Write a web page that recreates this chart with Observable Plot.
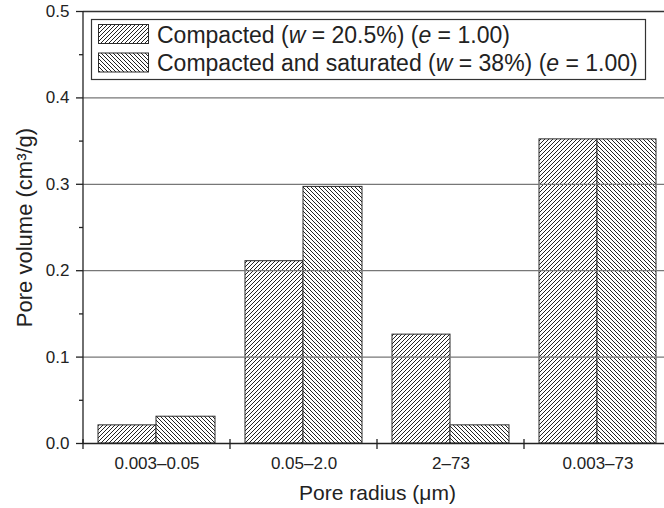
<!DOCTYPE html>
<html><head><meta charset="utf-8">
<script src="https://cdn.jsdelivr.net/npm/d3@7"></script>
<script src="https://cdn.jsdelivr.net/npm/@observablehq/plot@0.6"></script>
<style>
html,body{margin:0;padding:0;background:#fff;overflow:hidden;width:664px;height:508px}
#chart{position:relative;width:664px;height:508px;overflow:hidden}
#chart svg{max-width:none !important;font-family:"Liberation Sans",Arial,sans-serif}
</style></head><body><div id="chart"></div>
<script>
const categories = ["0.003–0.05", "0.05–2.0", "2–73", "0.003–73"];
const seriesNames = ["Compacted", "Compacted and saturated"];
const compacted = [0.021, 0.211, 0.126, 0.352];
const saturated = [0.031, 0.297, 0.021, 0.352];
const yTicks = [0, 0.1, 0.2, 0.3, 0.4, 0.5];
const yMinorTicks = [0.05, 0.15, 0.25, 0.35, 0.45];
const yGrid = [0.1, 0.2, 0.3, 0.4];
const xTitle = "Pore radius (μm)";
const yTitle = "Pore volume (cm³/g)";

const rowsA = categories.map((c, i) => ({cat: c, series: seriesNames[0], v: compacted[i]}));
const rowsB = categories.map((c, i) => ({cat: c, series: seriesNames[1], v: saturated[i]}));

const ink = "#222";

const bandTicks = (index, scales, values, dims) => {
  const x = scales.x;
  const bw = x.bandwidth ? x.bandwidth() : (x(categories[1]) - x(categories[0]));
  const xs = categories.map(c => x(c)).concat([x(categories[categories.length - 1]) + bw]);
  const y0 = scales.y(0);
  const g = d3.create("svg:g");
  g.selectAll("line.t").data(xs).join("line")
    .attr("x1", d => d).attr("x2", d => d)
    .attr("y1", y0 - 4).attr("y2", y0 + 6)
    .attr("stroke", ink).attr("stroke-width", 1.3);
  g.append("line")
    .attr("x1", dims.marginLeft).attr("x2", dims.marginLeft)
    .attr("y1", scales.y(0.5)).attr("y2", y0)
    .attr("stroke", ink).attr("stroke-width", 1.3);
  return g.node();
};

const svg = Plot.plot({
  width: 672,
  height: 508,
  marginLeft: 83,
  marginRight: 1,
  marginTop: 11,
  marginBottom: 65,
  style: {fontFamily: "'Liberation Sans', Arial, sans-serif", color: ink, background: "#fff", maxWidth: "none"},
  x: {domain: categories, padding: 0, axis: null},
  y: {domain: [0, 0.5], axis: null},
  marks: [
    Plot.barY(rowsA, {x: "cat", y: "v", fill: "url(#hatchA)", stroke: "#2a2a2a", strokeWidth: 1, insetLeft: 15, insetRight: 74}),
    Plot.barY(rowsB, {x: "cat", y: "v", fill: "url(#hatchB)", stroke: "#2a2a2a", strokeWidth: 1, insetLeft: 73, insetRight: 15}),
    Plot.ruleY(yGrid, {stroke: "#777", strokeWidth: 1.3}),
    Plot.ruleY([0.5], {stroke: "#333", strokeWidth: 1.3}),
    Plot.ruleY([0], {stroke: ink, strokeWidth: 1.4}),
    Plot.axisY({ticks: yTicks, tickSize: 7, tickPadding: 7, tickFormat: d3.format(".1f"), fontSize: 17, label: null, stroke: ink, strokeWidth: 1.3}),
    Plot.axisY({ticks: yMinorTicks, tickSize: 4, tickFormat: () => "", label: null, stroke: ink, strokeWidth: 1.3}),
    Plot.axisX({tickSize: 0, tickPadding: 13, fontSize: 17, label: null}),
    bandTicks,
    Plot.text([xTitle], {frameAnchor: "bottom", dy: 50, lineAnchor: "middle", textAnchor: "middle", fontSize: 21, fill: ink}),
    Plot.text([yTitle], {frameAnchor: "left", rotate: -90, dx: -59, lineAnchor: "middle", textAnchor: "middle", fontSize: 22, fill: ink})
  ]
});
svg.style.maxWidth = "none";

const s = d3.select(svg);
const defs = s.insert("defs", ":first-child");
function hatch(id, d) {
  const p = defs.append("pattern").attr("id", id)
    .attr("patternUnits", "userSpaceOnUse").attr("width", 4).attr("height", 4);
  p.append("rect").attr("width", 4).attr("height", 4).attr("fill", "#fff");
  p.append("path").attr("d", d).attr("stroke", "#222").attr("stroke-width", 1).attr("fill", "none");
}
hatch("hatchA", "M-1,1 L1,-1 M0,4 L4,0 M3,5 L5,3");
hatch("hatchB", "M-1,3 L1,5 M0,0 L4,4 M3,-1 L5,1");

// legend
const lg = s.append("g").attr("font-family", "'Liberation Sans', Arial, sans-serif").attr("fill", ink).attr("text-anchor", "start");
lg.append("rect").attr("x", 91.5).attr("y", 19.5).attr("width", 554).attr("height", 60)
  .attr("fill", "#fff").attr("stroke", "#333").attr("stroke-width", 1.2);
const legendRows = [
  {fill: "url(#hatchA)", y: 24, parts: [["Compacted (", false], ["w", true], [" = 20.5%) (", false], ["e", true], [" = 1.00)", false]]},
  {fill: "url(#hatchB)", y: 52.5, parts: [["Compacted and saturated (", false], ["w", true], [" = 38%) (", false], ["e", true], [" = 1.00)", false]]}
];
legendRows.forEach(r => {
  lg.append("rect").attr("x", 98.5).attr("y", r.y + 0.5).attr("width", 50).attr("height", 19)
    .attr("fill", r.fill).attr("stroke", "#2a2a2a").attr("stroke-width", 1);
  const t = lg.append("text").attr("x", 157).attr("y", r.y + 18.5).attr("font-size", 23).attr("text-anchor", "start");
  r.parts.forEach(([txt, it]) => t.append("tspan").attr("font-style", it ? "italic" : "normal").text(txt));
});

document.getElementById("chart").appendChild(svg);
</script>
</body></html>
